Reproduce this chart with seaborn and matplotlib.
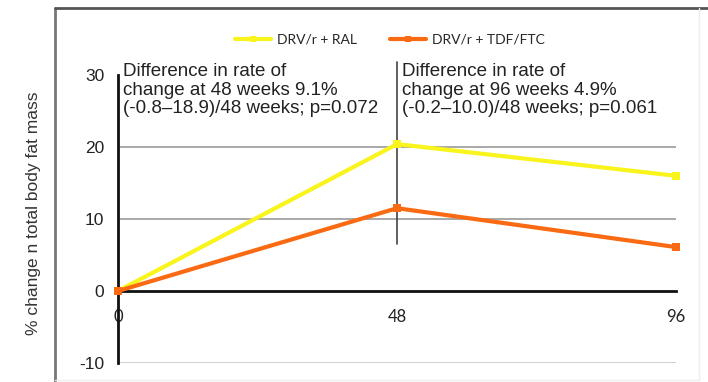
import matplotlib
matplotlib.use("Agg")
import matplotlib.pyplot as plt
from matplotlib.lines import Line2D
import seaborn as sns
import pandas as pd

# Time points (weeks) and % change in total body fat mass per regimen
weeks = [0, 48, 96]
ral_values = [0.0, 20.4, 16.0]
tdf_values = [0.0, 11.5, 6.1]
series_names = ["DRV/r + RAL", "DRV/r + TDF/FTC"]
series_colors = ["#f8f41c", "#fa6a12"]
x_ticks = [0, 48, 96]
y_ticks = [-10, 0, 10, 20, 30]
note_48 = "Difference in rate of\nchange at 48 weeks 9.1%\n(-0.8\u201318.9)/48 weeks; p=0.072"
note_96 = "Difference in rate of\nchange at 96 weeks 4.9%\n(-0.2\u201310.0)/48 weeks; p=0.061"
y_label = "% change n total body fat mass"

df = pd.DataFrame({
    "week": weeks * 2,
    "change": ral_values + tdf_values,
    "arm": [series_names[0]] * len(weeks) + [series_names[1]] * len(weeks),
})

sns.set_style("white")
plt.rcParams["font.family"] = ["Liberation Sans", "DejaVu Sans"]
plt.rcParams["axes.unicode_minus"] = False

fig = plt.figure(figsize=(7.08, 3.82), dpi=100)
ax = fig.add_axes([118 / 708, 1 - 363 / 382, (676 - 118) / 708, (363 - 75) / 382])

# gridlines drawn only across the data range
for g, c in [(10, "#a8a8a8"), (20, "#a8a8a8"), (-10, "#cfcfcf")]:
    ax.plot([0, 96], [g, g], color=c, lw=1.4, zorder=1)

sns.lineplot(data=df, x="week", y="change", hue="arm", palette=series_colors,
             marker="s", markersize=6, markeredgewidth=0, linewidth=3,
             ax=ax, legend=False, zorder=3, clip_on=False)

# vertical divider at week 48
ax.plot([48, 48], [6.5, 31.8], color="#444444", lw=1.2, zorder=2, clip_on=False)

ax.set_xlim(0, 96)
ax.set_ylim(-10, 30)
ax.set_xticks(x_ticks)
ax.set_yticks(y_ticks)
ax.set_xlabel("")
ax.set_ylabel(y_label, fontsize=12.5, color="#333333")
ax.yaxis.set_label_coords(-0.138, 0.52)

for s in ["top", "right"]:
    ax.spines[s].set_visible(False)
ax.spines["bottom"].set_position(("data", 0))
ax.spines["bottom"].set_color("#111111")
ax.spines["bottom"].set_linewidth(2)
ax.spines["left"].set_color("#111111")
ax.spines["left"].set_linewidth(2)

ax.tick_params(axis="y", direction="out", length=5, width=2, color="#111111",
               labelsize=12.5, labelcolor="#222222", pad=5)
ax.tick_params(axis="x", direction="out", length=5, width=2, color="#111111",
               labelsize=12, labelcolor="#222222", pad=8)
for lbl in ax.get_xticklabels():
    lbl.set_fontfamily(["Lato", "DejaVu Sans"])

ax.text(0.8, 31.6, note_48, fontsize=13.5, va="top", ha="left",
        color="#222222", linespacing=1.1)
ax.text(48.8, 31.6, note_96, fontsize=13.5, va="top", ha="left",
        color="#222222", linespacing=1.1)

handles = [Line2D([], [], color=c, lw=3, marker="s", markersize=5, markeredgewidth=0)
           for c in series_colors]
fig.legend(handles, series_names, loc="center", bbox_to_anchor=(390 / 708, 1 - 40 / 382),
           ncol=2, frameon=False, handlelength=2.6, handletextpad=0.4,
           columnspacing=2.4, prop={"family": ["Lato", "DejaVu Sans"], "size": 10})

# outer panel frame
fig.add_artist(Line2D([55 / 708, 55 / 708], [1 - 382 / 382, 1 - 8 / 382],
                      transform=fig.transFigure, color="#777777", lw=2))
fig.add_artist(Line2D([55 / 708, 708 / 708], [1 - 8 / 382, 1 - 8 / 382],
                      transform=fig.transFigure, color="#555555", lw=2))
fig.add_artist(Line2D([699 / 708, 699 / 708], [1 - 380 / 382, 1 - 8 / 382],
                      transform=fig.transFigure, color="#eeeeee", lw=1))
fig.add_artist(Line2D([55 / 708, 699 / 708], [1 - 380 / 382, 1 - 380 / 382],
                      transform=fig.transFigure, color="#eeeeee", lw=1))

fig.savefig("out.png", dpi=100)
